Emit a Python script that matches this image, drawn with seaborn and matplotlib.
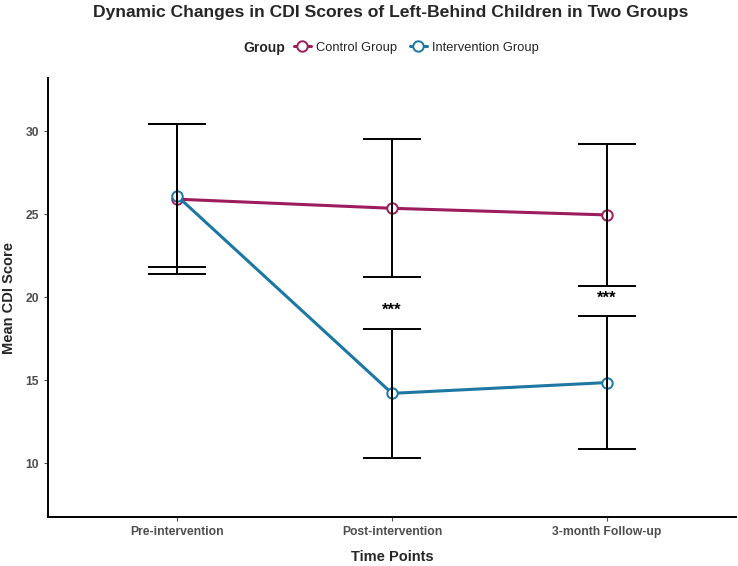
import pandas as pd
import seaborn as sns
import matplotlib.pyplot as plt
from matplotlib.lines import Line2D

time_points = ["Pre-intervention", "Post-intervention", "3-month Follow-up"]
groups = ["Control Group", "Intervention Group"]
control_mean = [25.9, 25.35, 24.95]
control_sd = [4.5, 4.15, 4.3]
interv_mean = [26.1, 14.2, 14.85]
interv_sd = [4.3, 3.9, 4.0]
sig_labels = ["", "***", "***"]
palette = {"Control Group": "#9C1C5E", "Intervention Group": "#1C77A3"}


def build_frame():
    rows = []
    for g, m, s in [(groups[0], control_mean, control_sd), (groups[1], interv_mean, interv_sd)]:
        for i, t in enumerate(time_points):
            rows.append({"Group": g, "Time": t, "pos": i, "mean": m[i], "sd": s[i]})
    return pd.DataFrame(rows)


def draw(df):
    sns.set_style("white")
    plt.rcParams["font.family"] = ["Liberation Sans", "DejaVu Sans"]
    fig = plt.figure(figsize=(7.38, 5.66), dpi=100)
    ax = fig.add_axes([48 / 738, 49 / 566, 688 / 738, 439 / 566])

    n_before = len(ax.lines)
    sns.lineplot(data=df, x="pos", y="mean", hue="Group", palette=palette, hue_order=groups,
                 marker="o", markersize=7.5, markerfacecolor="white", markeredgewidth=1.4,
                 linewidth=2.2, legend=False, ax=ax, zorder=2)
    for line in ax.lines[n_before:]:
        line.set_markeredgecolor(line.get_color())

    # error bars drawn over the lines, as in the original
    for g in groups:
        d = df[df["Group"] == g]
        ax.errorbar(d["pos"], d["mean"], yerr=d["sd"], fmt="none", ecolor="black",
                    elinewidth=1.4, capsize=21, capthick=1.4, zorder=3)

    # significance marks above intervention error bars
    for i, lab in enumerate(sig_labels):
        if lab:
            top = interv_mean[i] + interv_sd[i]
            ax.text(i, top + 1.1, lab, ha="center", va="center", fontsize=12,
                    fontweight="bold", color="black")

    ax.set_xlim(-0.6, 2.6)
    ax.set_ylim(6.75, 33.2)
    ax.set_xticks(range(len(time_points)))
    ax.set_xticklabels(time_points)
    ax.set_yticks([10, 15, 20, 25, 30])
    ax.tick_params(axis="both", labelsize=8.7, colors="#4D4D4D", length=3, width=0.8,
                   bottom=True, left=True)
    for lab in ax.get_xticklabels() + ax.get_yticklabels():
        lab.set_fontweight("bold")
    for side in ["top", "right"]:
        ax.spines[side].set_visible(False)
    for side in ["left", "bottom"]:
        ax.spines[side].set_color("black")
        ax.spines[side].set_linewidth(1.4)
    ax.set_xlabel("Time Points", fontsize=10.5, fontweight="bold")
    ax.set_ylabel("Mean CDI Score", fontsize=10.5, fontweight="bold")
    ax.xaxis.set_label_coords(0.5, -(557 - 517) / 439, transform=ax.transAxes)
    ax.xaxis.label.set_va("center")
    ax.yaxis.set_label_coords(-(48 - 9) / 688, 0.5, transform=ax.transAxes)
    ax.yaxis.label.set_va("center")

    fig.text(391 / 738, 1 - 12 / 566, "Dynamic Changes in CDI Scores of Left-Behind Children in Two Groups",
             ha="center", va="center", fontsize=12.6, fontweight="bold")

    handles = [Line2D([], [], color=palette[g], marker="o", markersize=7.5, markerfacecolor="white",
                      markeredgewidth=1.4, linewidth=2.2) for g in groups]
    fig.text(243 / 738, 1 - 48 / 566, "Group", ha="left", va="center", fontsize=10, fontweight="bold")
    fig.legend(handles, groups, loc="center left", bbox_to_anchor=(294 / 738, 1 - 48 / 566),
               ncol=2, frameon=False, fontsize=9.3, handlelength=1.3, handletextpad=0.4,
               columnspacing=1.0, borderpad=0, borderaxespad=0)

    fig.savefig("out.png", dpi=100)


def main():
    df = build_frame()
    draw(df)


if __name__ == "__main__":
    main()
